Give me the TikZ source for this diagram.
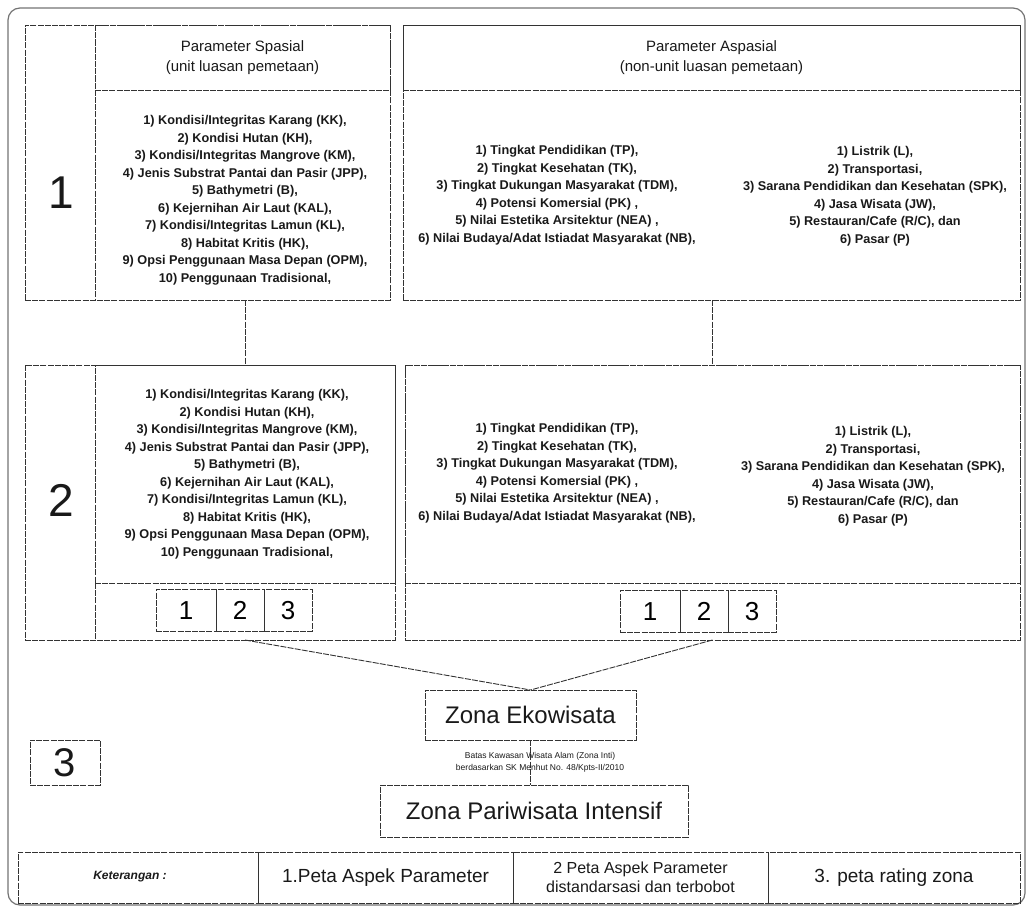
\documentclass[tikz,border=0pt]{standalone}
\usepackage{fontspec}
\setmainfont{Liberation Sans}
\usetikzlibrary{calc}
\usetikzlibrary{fit}
\usetikzlibrary{positioning}

\newcommand{\ukuran}[2]{\fontsize{#1}{#2}\selectfont}

\begin{document}
\begin{tikzpicture}[x=1pt, y=-1pt,
    garis/.style={draw=black!80, line width=0.9pt, dash pattern=on 6pt off 1.2pt},
    kotak/.style={garis, inner sep=0pt, outer sep=0pt},
    tulisan/.style={align=center, inner sep=0pt, text=black!90},
    daftar/.style={tulisan, font=\bfseries\ukuran{12.7}{17.5}},
    judul/.style={tulisan, font=\ukuran{15}{20}},
    nomor/.style={tulisan, font=\ukuran{46}{46}},
    sel/.style={garis, inner sep=0pt, outer sep=0pt, minimum height=42pt, text height=19pt, text depth=0pt, font=\ukuran{26}{26}}]
              \useasboundingbox (0,0) rectangle (1033,915);
              \newcommand{\tigasel}[3]
              {%
                \node[sel, minimum width=60pt, anchor=north west] (#1a) at (#2, #3) {1};
                \node[sel, minimum width=48pt, anchor=north west] (#1b) at (#1a.north east) {2};
                \node[sel, minimum width=48pt, anchor=north west] (#1c) at (#1b.north east) {3};
              }%
              \node[draw=black!55, line width=1.2pt, rounded corners=12pt, inner sep=0pt, fit={(8,8) (1025,905)}] (bingkai) {};
              % baris 1
              \node[kotak, fit={(25,25) (390,300)}] (baris1) {};
              \node[kotak, fit={(95,25) (390,90)}] (kepalasp) {};
              \node[judul] (judulsp) at (kepalasp.center) {Parameter Spasial\\(unit luasan pemetaan)};
              \draw[garis] (kepalasp.north west) -- (kepalasp.north west |- baris1.south);
              \node[nomor] (nomor1) at (61,193) {1};
              \node[daftar] (daftarsp1) at (245,200) {1) Kondisi/Integritas Karang (KK),\\2) Kondisi Hutan (KH),\\3) Kondisi/Integritas Mangrove (KM),\\4) Jenis Substrat Pantai dan Pasir (JPP),\\5) Bathymetri (B),\\6) Kejernihan Air Laut (KAL),\\7) Kondisi/Integritas Lamun (KL),\\8) Habitat Kritis (HK),\\9) Opsi Penggunaan Masa Depan (OPM),\\10) Penggunaan Tradisional,};
              \node[kotak, fit={(403,25) (1020,300)}] (aspasial1) {};
              \node[kotak, fit={(403,25) (1020,90)}] (kepalaas) {};
              \node[judul] (judulas) at (kepalaas.center) {Parameter Aspasial\\(non-unit luasan pemetaan)};
              \node[daftar] (daftaras1) at (557,195) {1) Tingkat Pendidikan (TP),\\2) Tingkat Kesehatan (TK),\\3) Tingkat Dukungan Masyarakat (TDM),\\4) Potensi Komersial (PK) ,\\5) Nilai Estetika Arsitektur (NEA) ,\\6) Nilai Budaya/Adat Istiadat Masyarakat (NB),};
              \node[daftar] (daftarinf1) at (875,196) {1) Listrik (L),\\2) Transportasi,\\3) Sarana Pendidikan dan Kesehatan (SPK),\\4) Jasa Wisata (JW),\\5) Restauran/Cafe (R/C), dan\\6) Pasar (P)};
              % baris 2
              \node[kotak, fit={(25,365) (395,640)}] (baris2) {};
              \node[kotak, fit={(95,365) (395,583)}] (isisp2) {};
              \draw[garis] (isisp2.south west) -- (isisp2.south west |- baris2.south);
              \node[nomor] (nomor2) at (61,500) {2};
              \node[daftar] (daftarsp2) at (247,474) {1) Kondisi/Integritas Karang (KK),\\2) Kondisi Hutan (KH),\\3) Kondisi/Integritas Mangrove (KM),\\4) Jenis Substrat Pantai dan Pasir (JPP),\\5) Bathymetri (B),\\6) Kejernihan Air Laut (KAL),\\7) Kondisi/Integritas Lamun (KL),\\8) Habitat Kritis (HK),\\9) Opsi Penggunaan Masa Depan (OPM),\\10) Penggunaan Tradisional,};
              \node[kotak, fit={(405,365) (1020,640)}] (aspasial2) {};
              \node[kotak, fit={(405,365) (1020,583)}] (isias2) {};
              \node[daftar] (daftaras2) at (557,473) {1) Tingkat Pendidikan (TP),\\2) Tingkat Kesehatan (TK),\\3) Tingkat Dukungan Masyarakat (TDM),\\4) Potensi Komersial (PK) ,\\5) Nilai Estetika Arsitektur (NEA) ,\\6) Nilai Budaya/Adat Istiadat Masyarakat (NB),};
              \node[daftar] (daftarinf2) at (873,476) {1) Listrik (L),\\2) Transportasi,\\3) Sarana Pendidikan dan Kesehatan (SPK),\\4) Jasa Wisata (JW),\\5) Restauran/Cafe (R/C), dan\\6) Pasar (P)};
              \draw[garis] (isisp2.north |- baris1.south) -- (isisp2.north);
              \draw[garis] (isias2.north |- aspasial1.south) -- (isias2.north);
              \tigasel{selkiri}{156}{589}
              \tigasel{selkanan}{620}{590}
              % zona
              \node[kotak, fit={(425,690) (636,740)}] (ekowisata) {};
              \node[tulisan, font=\ukuran{24}{24}] (teksekowisata) at (ekowisata.center) {Zona Ekowisata};
              \draw[garis] (isisp2.south |- baris2.south) -- (ekowisata.north);
              \draw[garis] (isias2.south |- aspasial2.south) -- (ekowisata.north);
              \node[kotak, fit={(380,785) (688,837)}] (intensif) {};
              \node[tulisan, font=\ukuran{24}{24}] (teksintensif) at (intensif.center) {Zona Pariwisata Intensif};
              \draw[garis] (ekowisata.south) -- (ekowisata.south |- intensif.north);
              \node[tulisan, font=\ukuran{8.5}{12}] (batas) at (540,762) {Batas Kawasan Wisata Alam (Zona Inti)\\berdasarkan SK Menhut No. 48/Kpts-II/2010};
              \node[kotak, fit={(30,740) (100,785)}] (kotak3) {};
              \node[tulisan, font=\ukuran{40}{40}] (nomor3) at (kotak3.center) {3};
              % keterangan
              \node[kotak, fit={(18,852) (258,903)}] (ket) {};
              \node[tulisan, font=\bfseries\itshape\ukuran{12}{14}] (teksket) at (130,877) {Keterangan :};
              \node[kotak, fit={(258,852) (513,903)}] (ket1) {};
              \node[tulisan, font=\ukuran{19}{22}] (teksket1) at (ket1.center) {1.Peta Aspek Parameter};
              \node[kotak, fit={(513,852) (768,903)}] (ket2) {};
              \node[tulisan, font=\ukuran{16}{19}] (teksket2) at (ket2.center) {2 Peta Aspek Parameter\\distandarsasi dan terbobot};
              \node[kotak, fit={(768,852) (1020,903)}] (ket3) {};
              \node[tulisan, font=\ukuran{19}{22}] (teksket3) at (ket3.center) {3. peta rating zona};
            \end{tikzpicture}
\end{document}
